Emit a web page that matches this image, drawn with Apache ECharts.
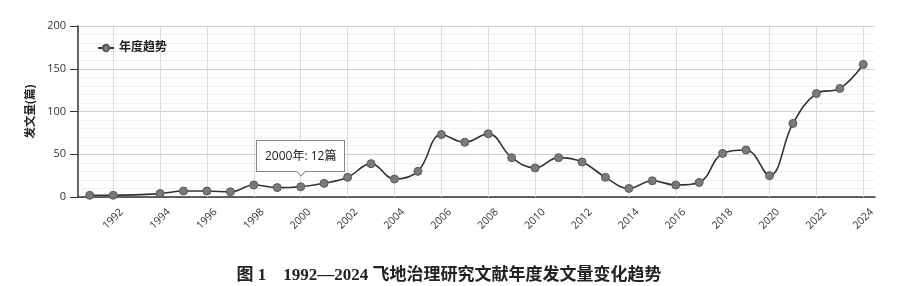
<!DOCTYPE html>
<html>
<head>
<meta charset="utf-8">
<script src="https://cdn.jsdelivr.net/npm/echarts@6/dist/echarts.min.js"></script>
<style>
html,body{margin:0;padding:0;background:#fff;}
#c{width:898px;height:286px;}
</style>
</head>
<body>
<div id="c"></div>
<script>
const years = ['1991','1992','1993','1994','1995','1996','1997','1998','1999','2000','2001','2002','2003','2004','2005','2006','2007','2008','2009','2010','2011','2012','2013','2014','2015','2016','2017','2018','2019','2020','2021','2022','2023','2024'];
const counts = [2,2,null,4,7,7,6,14,11,12,16,23,39,21,30,73,64,74,46,34,46,41,23,10,19,14,17,51,55,25,86,121,127,155];
const gridYears = ['1992','1994','1996','1998','2000','2002','2004','2006','2008','2010','2012','2014','2016','2018','2020','2022','2024'];
const seriesName = '年度趋势';
const yName = '发文量(篇)';
const chartTitle = '图 1　1992—2024 飞地治理研究文献年度发文量变化趋势';
const tipIndex = 9;

const chart = echarts.init(document.getElementById('c'), null, {renderer:'canvas'});
const labelFont = '"Open Sans", "Noto Sans CJK SC", sans-serif';
chart.setOption({
  animation: false,
  backgroundColor: '#fff',
  title: {
    text: chartTitle,
    left: 'center',
    top: 262,
    textStyle: {fontFamily: '"Liberation Serif", "Noto Sans CJK SC", serif', fontSize: 17, fontWeight: 'bold', color: '#222'}
  },
  legend: {
    left: 92, top: 37,
    itemWidth: 16, itemHeight: 8, itemGap: 3,
    data: [seriesName],
    textStyle: {fontFamily: labelFont, fontSize: 12, fontWeight: 'bold', color: '#222'}
  },
  tooltip: {
    trigger: 'item',
    position: 'top',
    alwaysShowContent: true,
    backgroundColor: '#fff',
    borderColor: '#888',
    borderWidth: 1,
    borderRadius: 0,
    padding: [6, 8],
    textStyle: {fontFamily: labelFont, fontSize: 12, color: '#222'},
    extraCssText: 'box-shadow:none;',
    formatter: p => p.name + '年: ' + p.value + '篇'
  },
  grid: {left: 78, right: 23, top: 26, bottom: 89},
  xAxis: {
    type: 'category',
    data: years,
    boundaryGap: true,
    axisLine: {lineStyle: {color: '#333', width: 1.5}},
    axisTick: {alignWithLabel: true, length: 7, lineStyle: {color: '#333', width: 1.5}, interval: (i, v) => (+v) % 2 === 0},
    axisLabel: {rotate: 45, fontSize: 10.5, color: '#333', fontFamily: labelFont, margin: 22, align: 'center', verticalAlign: 'middle', interval: (i, v) => (+v) % 2 === 0},
    splitLine: {show: false}
  },
  yAxis: {
    type: 'value',
    min: 0, max: 200, interval: 50,
    name: yName,
    nameLocation: 'middle',
    nameGap: 40,
    nameTextStyle: {fontFamily: labelFont, fontSize: 11.5, fontWeight: 'bold', color: '#222'},
    axisLine: {show: true, lineStyle: {color: '#333', width: 1.5}},
    axisTick: {show: true, length: 8, lineStyle: {color: '#333'}},
    axisLabel: {fontSize: 11, color: '#333', fontFamily: labelFont, margin: 12},
    splitLine: {lineStyle: {color: '#d0d0d0', width: 1}},
    minorTick: {show: false, splitNumber: 5},
    minorSplitLine: {show: true, lineStyle: {color: '#efefef', width: 1}}
  },
  series: [{
    name: seriesName,
    type: 'line',
    data: counts,
    smooth: 0.4,
    connectNulls: true,
    symbol: 'circle',
    symbolSize: 8,
    itemStyle: {color: '#7a7a7a', borderColor: '#5a5a5a', borderWidth: 1},
    lineStyle: {color: '#333', width: 1.6},
    z: 3,
    markLine: {
      silent: true,
      symbol: ['none', 'none'],
      label: {show: false},
      lineStyle: {color: '#dcdcdc', width: 1, type: 'solid'},
      data: gridYears.map(y => ({xAxis: y})),
      z: 1
    }
  }]
});
setTimeout(() => chart.dispatchAction({type: 'showTip', seriesIndex: 0, dataIndex: tipIndex}), 50);
</script>
</body>
</html>
